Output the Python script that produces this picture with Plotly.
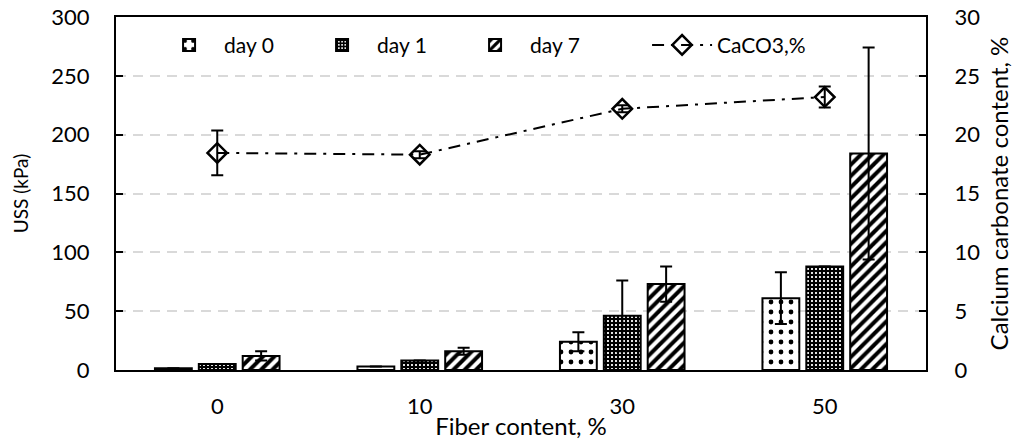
import plotly.graph_objects as go

categories = ["0", "10", "30", "50"]
day0 = [1.5, 3, 24, 61]
day0_err = [0, 0, 8, 22]
day1 = [5, 8, 46, 88]
day1_err = [0, 0, 30, 0]
day7 = [12, 16, 73, 184]
day7_err = [4, 3, 15, 90]
caco3 = [18.45, 18.3, 22.2, 23.2]
caco3_err = [1.9, 0.3, 0.3, 0.9]

FONT = "Lato"

def bar(name, y, err, shape, size, sol, bg, fg, lw):
    return go.Bar(
        name=name, x=categories, y=y, legendwidth=lw,
        marker=dict(color=bg, line=dict(color="black", width=2),
                    pattern=dict(shape=shape, size=size, solidity=sol,
                                 fgcolor=fg, bgcolor=bg, fillmode="replace")),
        error_y=dict(type="data", array=err, visible=True, color="black",
                     thickness=2, width=6),
    )

fig = go.Figure()
fig.add_trace(bar("day 0", day0, day0_err, ".", 10, 0.18, "white", "black", 78))
fig.add_trace(bar("day 1", day1, day1_err, "+", 4, 0.8, "white", "black", 78))
fig.add_trace(bar("day 7", day7, day7_err, "/", 8, 0.5, "white", "black", 112))
fig.add_trace(go.Scatter(
    name="CaCO3,%", x=categories, y=caco3, yaxis="y2", mode="lines+markers",
    legendwidth=130,
    line=dict(color="black", width=2, dash="12px,7px,3px,7px"),
    marker=dict(symbol="diamond-open", size=15, color="black", line=dict(width=2.5)),
    error_y=dict(type="data", array=caco3_err, visible=True, color="black",
                 thickness=2, width=6),
))

fig.update_layout(
    width=1017, height=441,
    margin=dict(l=116, r=91, t=17, b=71, autoexpand=False),
    paper_bgcolor="white", plot_bgcolor="white",
    font=dict(family=FONT, size=21, color="black"),
    barmode="group", bargap=0.35, bargroupgap=0.16,
    showlegend=True,
    legend=dict(orientation="h", x=0.047, y=0.92, xanchor="left", yanchor="middle",
                bgcolor="rgba(0,0,0,0)", font=dict(size=21), itemwidth=60,
                traceorder="normal"),
    xaxis=dict(type="category", showline=True, linecolor="black", linewidth=2,
               mirror=True, ticks="", tickfont=dict(size=22), ticklabelstandoff=16,
               title=dict(text="Fiber content, %", standoff=0, font=dict(size=24))),
    yaxis=dict(range=[0, 300], dtick=50, showline=True, linecolor="black", linewidth=2,
               ticks="inside", ticklen=7, tickwidth=2, tickcolor="black",
               showgrid=True, gridcolor="#d9d9d9", gridwidth=2, griddash="10px,7px",
               zeroline=False, tickfont=dict(size=22), ticklabelstandoff=20,
               title=dict(text="USS (kPa)", standoff=18, font=dict(size=19))),
    yaxis2=dict(range=[0, 30], dtick=5, overlaying="y", side="right",
                showline=True, linecolor="black", linewidth=2,
                ticks="inside", ticklen=7, tickwidth=2, tickcolor="black",
                showgrid=False, zeroline=False, tickfont=dict(size=22),
                ticklabelstandoff=22,
                title=dict(text="Calcium carbonate content, %", standoff=12,
                           font=dict(size=24))),
)

fig.write_html("out.html")
